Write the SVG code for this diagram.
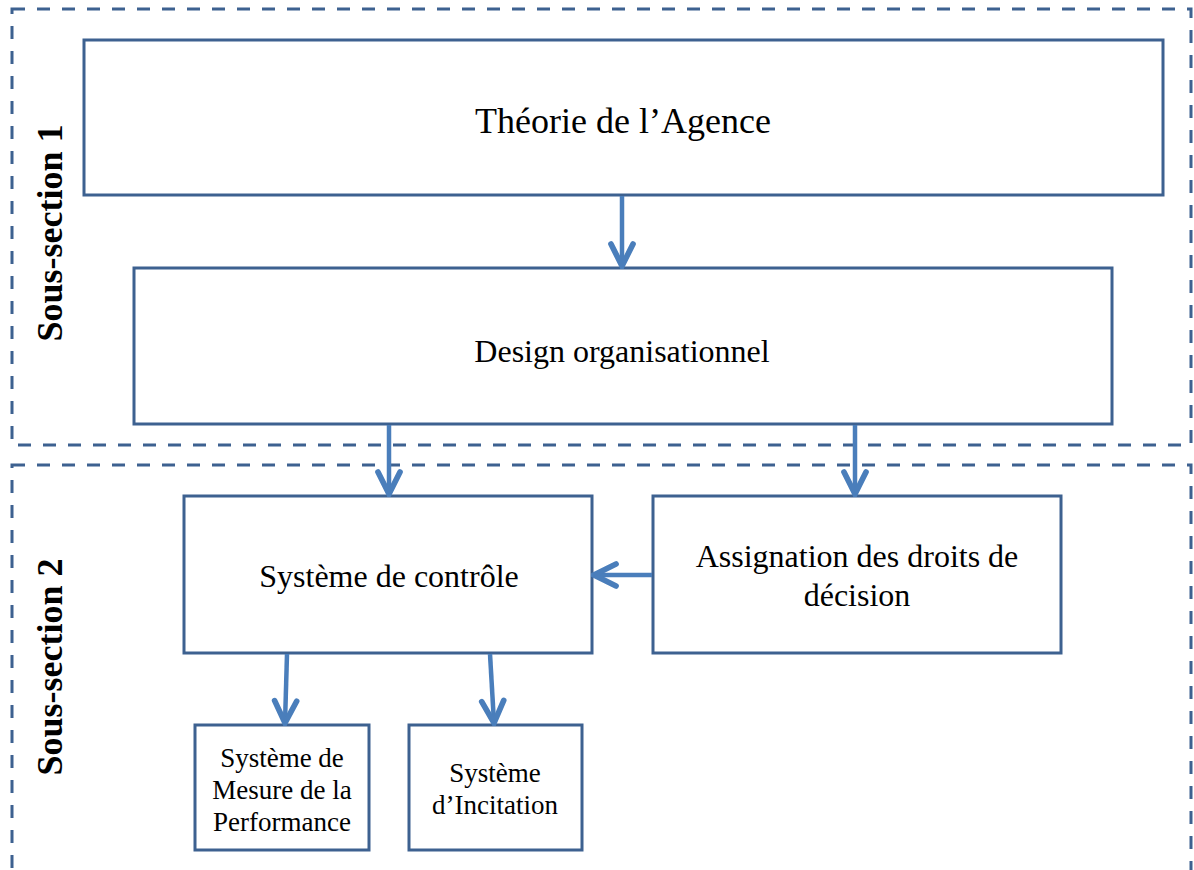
<svg xmlns="http://www.w3.org/2000/svg" width="1194" height="870" viewBox="0 0 1194 870">
<style>
.sec{fill:none;stroke:#3d6190;stroke-width:3;stroke-dasharray:13 12}
.box{fill:#fff;stroke:#3d6190;stroke-width:3}
.t{font-family:"Liberation Serif","Times New Roman",serif;fill:#000;text-anchor:middle}
.lbl{font-family:"Liberation Serif","Times New Roman",serif;font-weight:bold;font-size:36px;text-anchor:middle}
.ar{fill:none;stroke:#4a7ebb;stroke-width:4.5;marker-end:url(#ah)}
</style>
<defs>
<marker id="ah" viewBox="0 0 10 10" refX="9" refY="5" markerWidth="7" markerHeight="7" markerUnits="strokeWidth" orient="auto">
<polyline points="2,1.5 9,5 2,8.5" fill="none" stroke="#4a7ebb" stroke-width="1.8" stroke-linecap="round" stroke-linejoin="miter"/>
</marker>
</defs>
<g id="section1">
<rect class="sec" x="12" y="9" width="1179" height="436"/>
<text class="lbl" transform="translate(62,233) rotate(-90)">Sous-section 1</text>
</g>
<g id="section2">
<rect class="sec" x="12" y="465" width="1179" height="410"/>
<text class="lbl" transform="translate(62,667) rotate(-90)">Sous-section 2</text>
</g>
<g id="theorie">
<rect class="box" x="84" y="40" width="1079" height="155"/>
<text class="t" x="623" y="133" font-size="36">Théorie de l’Agence</text>
</g>
<g id="design">
<rect class="box" x="134" y="268" width="978" height="156"/>
<text class="t" x="622" y="362" font-size="32">Design organisationnel</text>
</g>
<g id="controle">
<rect class="box" x="184" y="496" width="408" height="157"/>
<text class="t" x="389" y="587" font-size="32">Système de contrôle</text>
</g>
<g id="assignation">
<rect class="box" x="653" y="496" width="408" height="157"/>
<text class="t" x="857" y="567" font-size="32">Assignation des droits de</text>
<text class="t" x="857" y="606" font-size="32">décision</text>
</g>
<g id="mesure">
<rect class="box" x="195" y="725" width="174" height="125"/>
<text class="t" x="282" y="767" font-size="27">Système de</text>
<text class="t" x="282" y="799" font-size="27">Mesure de la</text>
<text class="t" x="282" y="831" font-size="27">Performance</text>
</g>
<g id="incitation">
<rect class="box" x="409" y="725" width="173" height="125"/>
<text class="t" x="495" y="782" font-size="27">Système</text>
<text class="t" x="495" y="814" font-size="27">d’Incitation</text>
</g>
<g id="connectors">
<line class="ar" x1="622" y1="196" x2="622" y2="266"/>
<line class="ar" x1="389" y1="425" x2="389" y2="494"/>
<line class="ar" x1="855" y1="425" x2="855" y2="494"/>
<line class="ar" x1="652" y1="575" x2="594" y2="575"/>
<line class="ar" x1="287" y1="654" x2="285" y2="723"/>
<line class="ar" x1="490" y1="654" x2="494" y2="723"/>
</g>
</svg>
